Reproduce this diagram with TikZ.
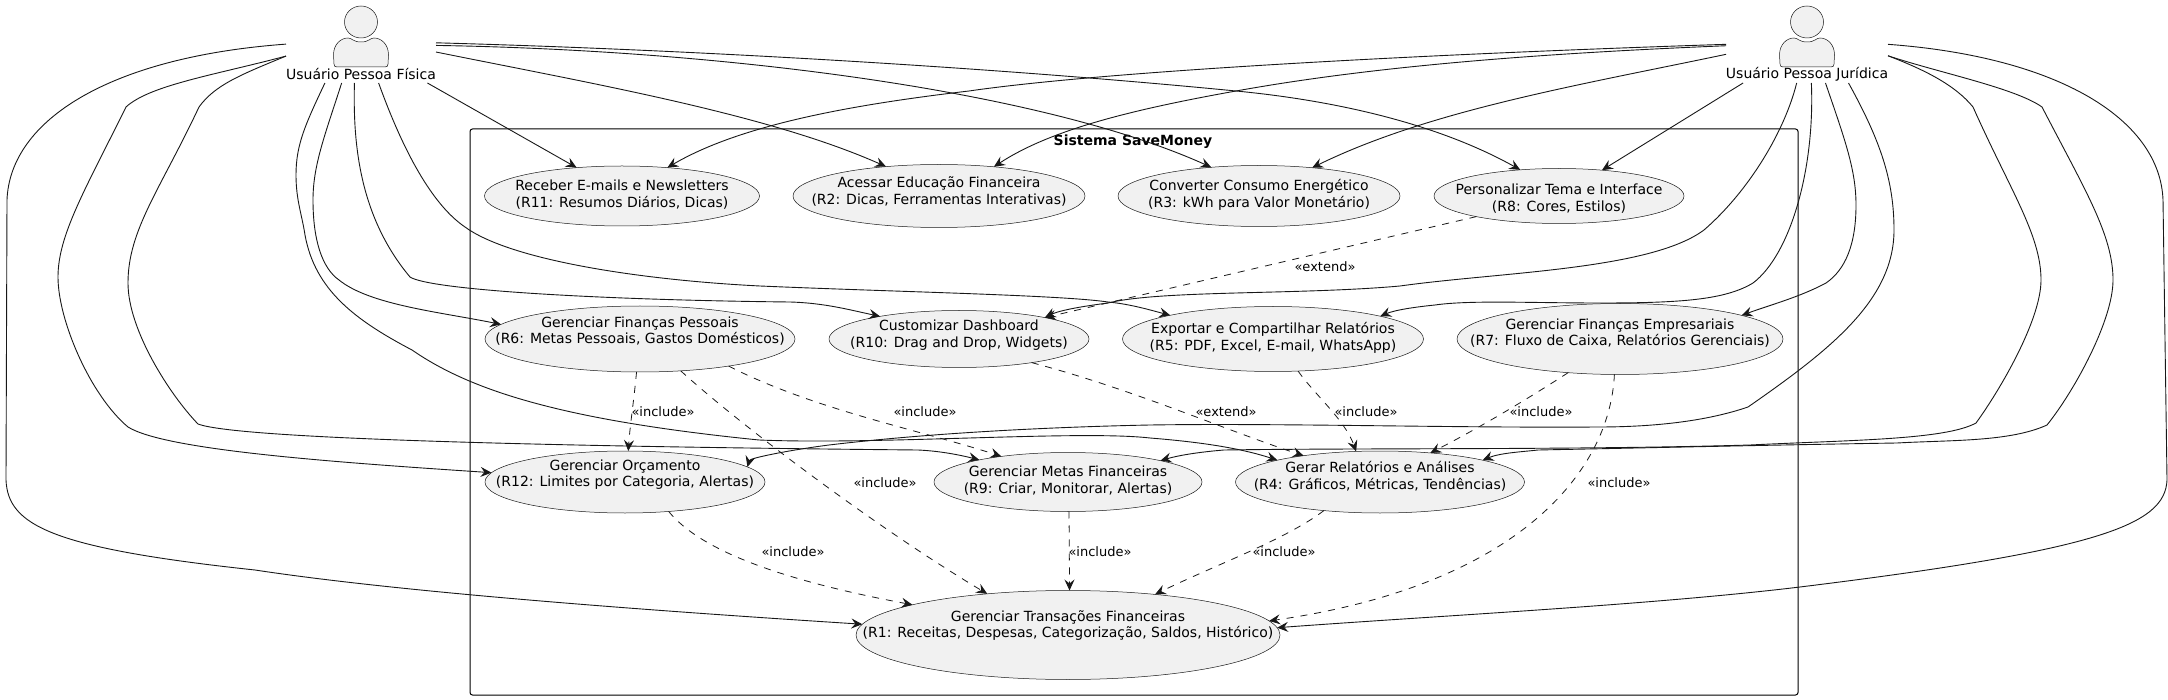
\documentclass[tikz,border=0pt]{standalone}
\usepackage{fontspec}
\setmainfont{DejaVu Sans}
\usetikzlibrary{shapes.geometric,arrows.meta}
\definecolor{ucfill}{HTML}{F1F1F1}
\definecolor{ucline}{HTML}{181818}
\newcommand{\uclines}[3][0]{\makebox[0pt]{\raisebox{\dimexpr#1pt-3.5pt}[0pt][0pt]{\begin{tabular}{@{}c@{}}#2\\#3\end{tabular}}}}
\tikzset{
	usecase/.style={ellipse,draw=ucline,fill=ucfill,line width=0.5pt,inner sep=0pt,outer sep=0pt,font=\fontsize{14}{16.5}\selectfont},
	actorbox/.style={rectangle,inner sep=0pt,outer sep=0pt,minimum height=83pt},
	actorname/.style={inner sep=0pt,font=\fontsize{14}{16.5}\selectfont},
	stereo/.style={inner sep=0pt,font=\fontsize{13}{15}\selectfont},
	link/.style={draw=ucline,line width=0.9pt,-{Stealth[length=11pt,width=10pt,inset=4pt]}},
	dep/.style={link,line width=0.8pt,dash pattern=on 7pt off 7pt},
}
\begin{document}
\begin{tikzpicture}[x=1pt,y=-1pt]
	\useasboundingbox (0,0) rectangle (2168,700);
	\node[draw=black,line width=1pt,rounded corners=2.5pt,inner sep=0pt,outer sep=0pt,minimum width=1328pt,minimum height=566pt] (sistema) at (1134,412) {};
	\node[inner sep=0pt,font=\fontsize{14}{16.5}\selectfont\bfseries] (sistemaname) at (1133,142) {Sistema SaveMoney};
	\foreach \ax in {361,1807} {
		\begin{scope}[shift={(\ax,0)},draw=ucline,fill=ucfill,line width=0.5pt]
			\filldraw (0,22) ellipse (16.5pt and 16pt);
			\filldraw (-27,64) -- (-27.5,55) .. controls (-27.5,44) and (-20,38) .. (-13,38) .. controls (-9,38) and (-8,42) .. (0,42) .. controls (8,42) and (9,38) .. (13,38) .. controls (20,38) and (27.5,44) .. (27.5,55) -- (27,64) .. controls (27,66) and (26,67) .. (24,67) -- (-24,67) .. controls (-26,67) and (-27,66) .. (-27,64) -- cycle;
		\end{scope}
	}
	\node[actorbox,minimum width=150pt] (pf) at (361,41.5) {};
	\node[actorbox,minimum width=162pt] (pj) at (1807,41.5) {};
	\node[actorname] (pfname) at (361,74) {Usuário Pessoa Física};
	\node[actorname] (pjname) at (1807,74) {Usuário Pessoa Jurídica};

	\node[usecase,minimum width=275pt,minimum height=60pt] (emails) at (622,196) {\uclines{Receber E-mails e Newsletters}{(R11: Resumos Diários, Dicas)}};
	\node[usecase,minimum width=292pt,minimum height=63pt] (educacao) at (939,196) {\uclines[3]{Acessar Educação Financeira}{(R2: Dicas, Ferramentas Interativas)}};
	\node[usecase,minimum width=282pt,minimum height=61pt] (consumo) at (1259,196) {\uclines{Converter Consumo Energético}{(R3: kWh para Valor Monetário)}};
	\node[usecase,minimum width=250pt,minimum height=55pt] (tema) at (1559,196) {\uclines[-4]{Personalizar Tema e Interface}{(R8: Cores, Estilos)}};
	\node[usecase,minimum width=310pt,minimum height=66pt] (pessoais) at (640,339) {\uclines[6.5]{Gerenciar Finanças Pessoais}{(R6: Metas Pessoais, Gastos Domésticos)}};
	\node[usecase,minimum width=260pt,minimum height=57pt] (dashboard) at (959,339) {\uclines[3]{Customizar Dashboard}{(R10: Drag and Drop, Widgets)}};
	\node[usecase,minimum width=301pt,minimum height=65pt] (exportar) at (1273,339) {\uclines{Exportar e Compartilhar Relatórios}{(R5: PDF, Excel, E-mail, WhatsApp)}};
	\node[usecase,minimum width=326pt,minimum height=71pt] (empresa) at (1620,339) {\uclines[4.5]{Gerenciar Finanças Empresariais}{(R7: Fluxo de Caixa, Relatórios Gerenciais)}};
	\node[usecase,minimum width=280pt,minimum height=62pt] (orcamento) at (625,482) {\uclines[6.5]{Gerenciar Orçamento}{(R12: Limites por Categoria, Alertas)}};
	\node[usecase,minimum width=268pt,minimum height=59pt] (metas) at (1068,482) {\uclines{Gerenciar Metas Financeiras}{(R9: Criar, Monitorar, Alertas)}};
	\node[usecase,minimum width=289pt,minimum height=62pt] (relatorios) at (1380,482) {\uclines[4]{Gerar Relatórios e Análises}{(R4: Gráficos, Métricas, Tendências)}};
	\node[usecase,minimum width=424pt,minimum height=89pt] (transacoes) at (1068,635) {\uclines[8.5]{Gerenciar Transações Financeiras}{(R1: Receitas, Despesas, Categorização, Saldos, Histórico)}};

	\draw[link] (pf.328) -- (emails.148.9);
	\draw[link] (pf.-8.7) .. controls (600,85) and (770,115) .. (educacao.151.4);
	\draw[link] (pf.-3.4) .. controls (720,50) and (1040,90) .. (consumo.149.4);
	\draw[link] (pf.-1.9) .. controls (700,50) and (1000,68) .. (1236,91) .. controls (1340,101) and (1440,125) .. (tema.146.3);
	\draw[link] (pf.245.4) .. controls (325,135) and (313,165) .. (313,200) .. controls (313,240) and (322,268) .. (339,280) .. controls (370,305) and (440,312) .. (pessoais.174.4);
	\draw[link] (pf.261.8) .. controls (353,140) and (358,215) .. (410,277) .. controls (430,290) and (600,300) .. (790,302) .. controls (825,303) and (850,310) .. (dashboard.164.8);
	\draw[link] (pf.293.4) .. controls (410,170) and (440,210) .. (465,227) .. controls (510,260) and (640,280) .. (760,286) .. controls (900,292) and (1060,295) .. (1108,302) .. controls (1130,304) and (1150,310) .. (exportar.167.6);
	\draw[link] (pf.229.1) .. controls (305,125) and (296,145) .. (296,175) .. controls (296,200) and (302,215) .. (305,235) .. controls (315,290) and (355,320) .. (412,350) .. controls (470,390) and (560,420) .. (759,440) .. controls (880,445) and (1080,430) .. (1150,438) .. controls (1200,442) and (1240,448) .. (relatorios.168);
	\draw[link] (pf.191.7) .. controls (215,75) and (150,85) .. (126,107) .. controls (85,190) and (58,235) .. (58,277) .. controls (58,320) and (90,395) .. (128,427) .. controls (165,450) and (330,462) .. (orcamento.176.6);
	\draw[link] (pf.191.7) .. controls (240,75) and (215,85) .. (199,107) .. controls (160,190) and (128,230) .. (128,283) .. controls (128,330) and (170,395) .. (198,424) .. controls (240,440) and (600,447) .. (918,450) .. controls (940,451) and (960,455) .. (metas.166.7);
	\draw[link] (pf.182.7) .. controls (110,57) and (10,120) .. (7,200) -- (6,480) .. controls (8,525) and (50,548) .. (255,570) .. controls (400,592) and (640,610) .. (transacoes.177.2);

	\draw[link] (pj.213.8) -- (tema.31.8);
	\draw[link] (pj.189.5) .. controls (1580,85) and (1430,110) .. (consumo.28.7);
	\draw[link] (pj.183.9) .. controls (1550,53) and (1380,65) .. (1236,91) .. controls (1130,110) and (1050,130) .. (educacao.28.2);
	\draw[link] (pj.182.8) .. controls (1400,55) and (1100,72) .. (969,91) .. controls (850,105) and (740,125) .. (emails.32.2);
	\draw[link] (pj.256.5) .. controls (1785,130) and (1750,190) .. (1704,230) .. controls (1650,270) and (1500,272) .. (1400,286) .. controls (1300,295) and (1160,290) .. (1108,303) .. controls (1085,306) and (1060,310) .. (dashboard.14.7);
	\draw[link] (pj.276.9) .. controls (1815,170) and (1790,255) .. (1753,283) .. controls (1725,300) and (1680,303) .. (1600,303) .. controls (1530,303) and (1470,300) .. (1435,305) .. controls (1415,307) and (1395,310) .. (exportar.12.9);
	\draw[link] (pj.294) .. controls (1845,140) and (1856,170) .. (1856,205) .. controls (1856,245) and (1845,270) .. (1826,283) .. controls (1800,297) and (1770,305) .. (empresa.11.2);
	\draw[link] (pj.315) .. controls (1880,140) and (1894,180) .. (1894,230) .. controls (1894,300) and (1830,350) .. (1748,407) .. controls (1710,420) and (1660,427) .. (1598,427) .. controls (1450,428) and (1280,423) .. (1150,425) .. controls (1050,427) and (930,433) .. (829,445) .. controls (790,450) and (750,458) .. (orcamento.7.7);
	\draw[link] (pj.-10.8) .. controls (1925,70) and (1955,85) .. (1973,107) .. controls (2010,190) and (2041,235) .. (2041,280) .. controls (2041,320) and (2000,390) .. (1976,423) .. controls (1945,440) and (1850,440) .. (1750,445) .. controls (1580,450) and (1350,448) .. (1224,450) .. controls (1200,452) and (1180,455) .. (metas.13.3);
	\draw[link] (pj.-10.8) .. controls (1940,73) and (2015,88) .. (2042,107) .. controls (2085,190) and (2113,235) .. (2113,280) .. controls (2113,320) and (2075,390) .. (2047,425) .. controls (2010,442) and (1950,440) .. (1897,443) .. controls (1770,445) and (1640,448) .. (1538,450) .. controls (1520,452) and (1500,453) .. (relatorios.12.5);
	\draw[link] (pj.-2.8) .. controls (2060,57) and (2160,120) .. (2163,200) -- (2167,480) .. controls (2165,525) and (2100,550) .. (1800,587) .. controls (1650,605) and (1450,615) .. (transacoes.2.7);

	\draw[dep] (tema.194.1) -- (dashboard.14.7);
	\draw[dep] (pessoais.264) .. controls (634,400) and (630,425) .. (orcamento.84.5);
	\draw[dep] (pessoais.-38.2) .. controls (740,425) and (880,530) .. (transacoes.153.2);
	\draw[dep] (pessoais.-17.5) .. controls (815,410) and (920,430) .. (metas.159.8);
	\draw[dep] (dashboard.-18.9) .. controls (1135,390) and (1225,430) .. (relatorios.161.3);
	\draw[dep] (exportar.-52) .. controls (1315,395) and (1345,420) .. (relatorios.128.9);
	\draw[dep] (empresa.213.2) .. controls (1518,405) and (1475,430) .. (relatorios.30.1);
	\draw[dep] (empresa.261.9) .. controls (1610,470) and (1520,585) .. (transacoes.4.2);
	\draw[dep] (orcamento.-34.9) .. controls (700,550) and (780,580) .. (transacoes.169.7);
	\draw[dep] (metas.-88) -- (transacoes.88.7);
	\draw[dep] (relatorios.207.8) .. controls (1285,540) and (1215,565) .. (transacoes.25.7);

	\node[stereo] (ext1) at (1325,267) {«extend»};
	\node[stereo] (ext2) at (1226,412) {«extend»};
	\node[stereo] (inc1) at (663,412) {«include»};
	\node[stereo] (inc2) at (925,412) {«include»};
	\node[stereo] (inc3) at (885,483) {«include»};
	\node[stereo] (inc4) at (1366,412) {«include»};
	\node[stereo] (inc5) at (1541,412) {«include»};
	\node[stereo] (inc6) at (1619,483) {«include»};
	\node[stereo] (inc7) at (793,552) {«include»};
	\node[stereo] (inc8) at (1100,552) {«include»};
	\node[stereo] (inc9) at (1284,552) {«include»};
\end{tikzpicture}
\end{document}
